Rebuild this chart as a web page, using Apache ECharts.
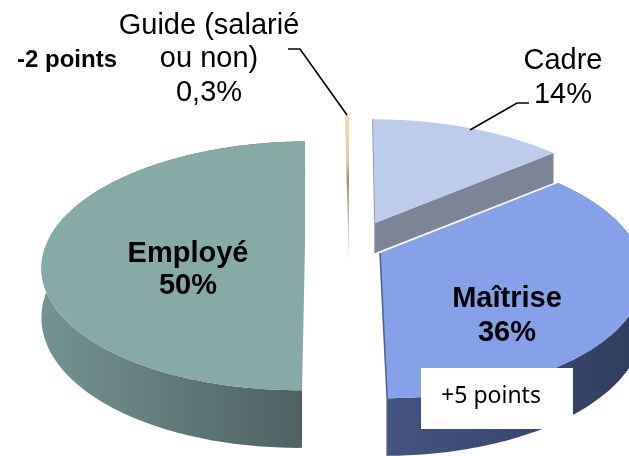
<!DOCTYPE html>
<html>
<head>
<meta charset="utf-8">
<script src="https://cdn.jsdelivr.net/npm/echarts@6/dist/echarts.min.js"></script>
<style>
  html, body { margin: 0; padding: 0; background: #fff; }
  #chart { width: 629px; height: 456px; }
</style>
</head>
<body>
<div id="chart"></div>
<script>
  const categories = ['Cadre', 'Maîtrise', 'Employé', 'Guide (salarié ou non)'];
  const shares = [14, 36, 50, 0.3];

  // exploded slices: each one has its own apex on the page
  const apexX = [375, 380, 305, 349];
  const apexY = [223, 253, 245, 219];
  const lean = [2.5, 3.5, -4.9, 0];
  const topColors = ['#bdcced', '#85a1e7', '#86aaa5', '#e8cba6'];
  const wallColors = [['#7d8797', '#7d8797'], ['#43547f', '#2f3d5e'], ['#739392', '#4e6161'], ['#fff', '#fff']];

  // flattened disc seen in perspective
  const RX = 259, RY = 121, K = 0.167, DEPTH = 48, CUT_DEPTH = 30;
  const total = shares.reduce((a, b) => a + b, 0);
  const font = '"Liberation Sans", Arial, sans-serif';

  function angle(v) {
    return echarts.number.linearMap(v, [0, total], [0, Math.PI * 2]);
  }
  function rim(i, t) {
    const u = Math.sin(t), v = -Math.cos(t), w = 1 - K * v;
    return [apexX[i] + (RX * u + lean[i] * v) / w, apexY[i] + RY * v / w, DEPTH / w];
  }
  function arc(i, a, b) {
    const pts = [];
    const n = Math.max(2, Math.ceil((b - a) * 60));
    for (let j = 0; j <= n; j++) pts.push(rim(i, a + (b - a) * j / n));
    return pts;
  }
  const xy = p => [p[0], p[1]];
  const down = p => [p[0], p[1] + p[2]];

  function renderSlice(params, api) {
    const i = params.dataIndex;
    let before = 0;
    for (let j = 0; j < i; j++) before += shares[j];
    const a = angle(before), b = angle(before + api.value(0));
    const edge = arc(i, a, b);
    const last = edge[edge.length - 1];
    const apex = [apexX[i], apexY[i]];
    const children = [];

    if (i === 3) {
      // the sliver has no visible wall, it just fades out downwards
      children.push({
        type: 'polygon',
        shape: { points: edge.map(xy).concat([[apex[0], apex[1] + DEPTH]]) },
        style: {
          fill: new echarts.graphic.LinearGradient(0, 0, 0, 1, [
            { offset: 0, color: '#f0d8ba' },
            { offset: 0.3, color: '#e6c8a2' },
            { offset: 0.42, color: '#a8906f' },
            { offset: 0.7, color: '#c9c0b2' },
            { offset: 1, color: '#f4f4f4' }
          ])
        }
      });
      return { type: 'group', children };
    }

    if (i === 0) {
      // cut face towards the Maîtrise slice, its foot is hidden by that slice
      const apexDown = [apex[0], apex[1] + CUT_DEPTH];
      children.push({
        type: 'polygon',
        shape: { points: [apex, xy(last), [last[0], last[1] + CUT_DEPTH], apexDown] },
        style: { fill: '#7b8595' }
      });
      children.push({
        type: 'polyline',
        shape: { points: [xy(edge[0]), apex, apexDown] },
        style: { fill: null, stroke: '#7f8cab', lineWidth: 1.5 }
      });
    } else {
      children.push({
        type: 'polygon',
        shape: { points: edge.map(xy).concat(edge.slice().reverse().map(down)) },
        style: {
          fill: new echarts.graphic.LinearGradient(0, 0, 1, 0, [
            { offset: 0, color: wallColors[i][0] },
            { offset: 1, color: wallColors[i][1] }
          ])
        }
      });
    }
    children.push({
      type: 'polygon',
      shape: { points: edge.map(xy).concat([apex]) },
      style: { fill: topColors[i] }
    });
    if (i === 1) {
      children.push({
        type: 'polyline',
        shape: { points: [apex, xy(last), down(last)] },
        style: { fill: null, stroke: '#4d5f92', lineWidth: 1.5 }
      });
    }
    return { type: 'group', children };
  }

  function text(x, y, str, size, weight, family, lineHeight) {
    return {
      type: 'text', x, y, z: 10,
      style: {
        text: str, fill: '#000', align: 'center', verticalAlign: 'middle',
        font: (weight || 'normal') + ' ' + size + 'px ' + (family || font),
        lineHeight: lineHeight || 33.5
      }
    };
  }
  function leader(points) {
    return { type: 'polyline', z: 9, shape: { points }, style: { fill: null, stroke: '#000', lineWidth: 1.6 } };
  }

  const myChart = echarts.init(document.getElementById('chart'));
  myChart.setOption({
    animation: false,
    backgroundColor: '#fff',
    series: [{
      type: 'custom',
      coordinateSystem: 'none',
      silent: true,
      data: shares.map((v, i) => ({ name: categories[i], value: [v] })),
      renderItem: renderSlice
    }],
    graphic: [
      leader([[288, 49], [300, 49], [347, 115]]),
      leader([[470, 130], [517, 103], [529, 103]]),
      text(209, 59, 'Guide (salarié\nou non)\n0,3%', 29),
      text(563, 78, 'Cadre\n14%', 29),
      text(188, 270, 'Employé\n50%', 29, 'bold', null, 32),
      text(507, 316, 'Maîtrise\n36%', 29, 'bold'),
      text(67, 60, '-2 points', 24, 'bold'),
      { type: 'rect', z: 9, shape: { x: 421, y: 368, width: 152, height: 61 }, style: { fill: '#fff' } },
      text(491, 396, '+5 points', 23, 'normal', '"Noto Sans", sans-serif')
    ]
  });
</script>
</body>
</html>
